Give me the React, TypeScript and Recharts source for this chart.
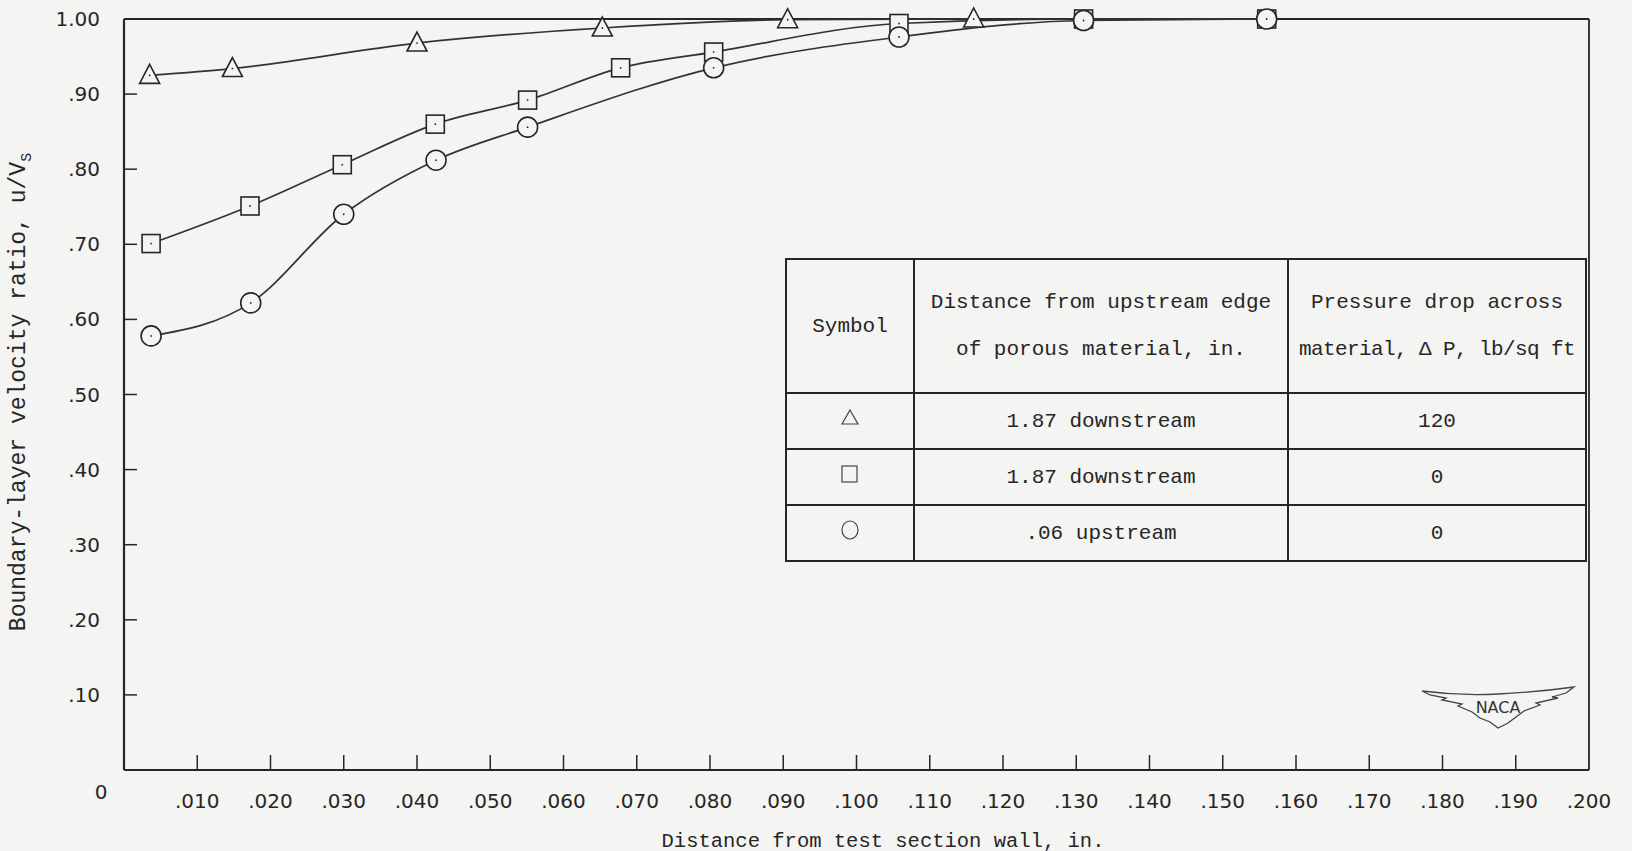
import { LineChart, Line, XAxis, YAxis, ReferenceLine } from "recharts"

// values
const xTicks = [0, 0.01, 0.02, 0.03, 0.04, 0.05, 0.06, 0.07, 0.08, 0.09, 0.1, 0.11, 0.12, 0.13, 0.14, 0.15, 0.16, 0.17, 0.18, 0.19, 0.2]
const yTicks = [0, 0.1, 0.2, 0.3, 0.4, 0.5, 0.6, 0.7, 0.8, 0.9, 1.0]

const triangleX = [0.0035, 0.0148, 0.04, 0.0653, 0.0906, 0.116]
const triangleY = [0.925, 0.934, 0.968, 0.988, 0.999, 1.0]

const squareX = [0.0037, 0.0172, 0.0298, 0.0425, 0.0551, 0.0678, 0.0805, 0.1058, 0.131, 0.156]
const squareY = [0.701, 0.751, 0.806, 0.86, 0.892, 0.935, 0.956, 0.994, 1.0, 1.0]

const circleX = [0.0037, 0.0173, 0.03, 0.0426, 0.0551, 0.0805, 0.1058, 0.131, 0.156]
const circleY = [0.578, 0.622, 0.74, 0.812, 0.856, 0.935, 0.976, 0.998, 1.0]

const legendRows = [
  { symbol: "triangle", distance: "1.87 downstream", pressure: "120" },
  { symbol: "square", distance: "1.87 downstream", pressure: "0" },
  { symbol: "circle", distance: ".06 upstream", pressure: "0" },
]

const toPts = (xs: number[], ys: number[]) => xs.map((x, i) => ({ x, y: ys[i] }))

const BG = "#f4f4f2"
const INK = "#262626"
const MONO = "'Liberation Mono', 'DejaVu Sans Mono', monospace"
const TICKFONT = "'DejaVu Sans', sans-serif"

const fmtX = (v: number) => v.toFixed(3).replace(/^0/, "")
const fmtY = (v: number) => (v === 1 ? "1.00" : v.toFixed(2).replace(/^0/, ""))

const XTick = (props: any) => {
  const { x, y, payload } = props
  const v = payload.value
  return (
    <g>
      {v > 0 && v < 0.2 && <line x1={x} y1={y} x2={x} y2={y - 15} stroke={INK} strokeWidth={1.5} />}
      {v > 0 && (
        <text x={x} y={y + 38} textAnchor="middle" fontFamily={TICKFONT} fontSize={20} fill={INK}>
          {fmtX(v)}
        </text>
      )}
    </g>
  )
}

const YTick = (props: any) => {
  const { x, y, payload } = props
  const v = payload.value
  if (v === 0) {
    return (
      <text x={x - 23} y={y + 29} textAnchor="middle" fontFamily={TICKFONT} fontSize={20} fill={INK}>
        0
      </text>
    )
  }
  return (
    <g>
      {v < 1 && <line x1={x} y1={y} x2={x + 13} y2={y} stroke={INK} strokeWidth={1.5} />}
      <text x={x - 24} y={y + 7} textAnchor="end" fontFamily={TICKFONT} fontSize={20} fill={INK}>
        {fmtY(v)}
      </text>
    </g>
  )
}

const Marker = ({ kind, cx, cy }: { kind: string; cx: number; cy: number }) => {
  const common = { fill: BG, stroke: INK, strokeWidth: 1.6 }
  let shape
  if (kind === "triangle") {
    shape = <path d={`M${cx},${cy - 11} L${cx + 10},${cy + 8} L${cx - 10},${cy + 8} Z`} {...common} />
  } else if (kind === "square") {
    shape = <rect x={cx - 9} y={cy - 9} width={18} height={18} {...common} />
  } else {
    shape = <circle cx={cx} cy={cy} r={10} {...common} />
  }
  return (
    <g>
      {shape}
      <circle cx={cx} cy={cy} r={0.9} fill={INK} />
    </g>
  )
}

const dotFor = (kind: string) => (p: any) => <Marker key={`${kind}-${p.index}`} kind={kind} cx={p.cx} cy={p.cy} />

const LegendIcon = ({ kind }: { kind: string }) => (
  <svg width={22} height={22} viewBox="0 0 22 22">
    {kind === "triangle" && <path d="M11,3 L19,17 L3,17 Z" fill="none" stroke="#444" strokeWidth={1.2} />}
    {kind === "square" && <rect x={3} y={3} width={15} height={16} fill="none" stroke="#444" strokeWidth={1.2} />}
    {kind === "circle" && <ellipse cx={11} cy={11} rx={8} ry={9} fill="none" stroke="#444" strokeWidth={1.2} />}
  </svg>
)

const cell: React.CSSProperties = {
  border: `2px solid ${INK}`,
  textAlign: "center",
  padding: 0,
}

export default function App() {
  return (
    <div
      style={{
        position: "absolute",
        left: 0,
        top: 0,
        width: 1632,
        height: 851,
        background: BG,
        overflow: "hidden",
      }}
    >
      <LineChart width={1632} height={851} margin={{ top: 19, right: 43, left: 24, bottom: 0 }}>
        <XAxis
          type="number"
          dataKey="x"
          domain={[0, 0.2]}
          ticks={xTicks}
          interval={0}
          height={81}
          tickSize={0}
          tickMargin={0}
          tickLine={false}
          axisLine={{ stroke: INK, strokeWidth: 2.2 }}
          tick={<XTick />}
          allowDuplicatedCategory={false}
        />
        <YAxis
          type="number"
          dataKey="y"
          domain={[0, 1]}
          ticks={yTicks}
          interval={0}
          width={100}
          tickSize={0}
          tickMargin={0}
          tickLine={false}
          axisLine={{ stroke: INK, strokeWidth: 2.2 }}
          tick={<YTick />}
        />
        <ReferenceLine y={1} stroke={INK} strokeWidth={2.2} />
        <ReferenceLine x={0.2} stroke={INK} strokeWidth={1.8} />
        <Line
          data={toPts(triangleX, triangleY)}
          dataKey="y"
          type="monotone"
          stroke="#333"
          strokeWidth={1.7}
          dot={dotFor("triangle")}
          isAnimationActive={false}
        />
        <Line
          data={toPts(squareX, squareY)}
          dataKey="y"
          type="monotone"
          stroke="#333"
          strokeWidth={1.7}
          dot={dotFor("square")}
          isAnimationActive={false}
        />
        <Line
          data={toPts(circleX, circleY)}
          dataKey="y"
          type="monotone"
          stroke="#333"
          strokeWidth={1.7}
          dot={dotFor("circle")}
          isAnimationActive={false}
        />
      </LineChart>

      {/* axis titles */}
      <div
        style={{
          position: "absolute",
          left: 21,
          top: 392,
          transform: "translate(-50%, -50%) rotate(-90deg)",
          whiteSpace: "nowrap",
          fontFamily: MONO,
          fontSize: 23,
          color: INK,
        }}
      >
        Boundary-layer velocity ratio, u/V<sub style={{ fontSize: 15 }}>S</sub>
      </div>
      <div
        style={{
          position: "absolute",
          left: 883,
          top: 841,
          transform: "translate(-50%, -50%)",
          whiteSpace: "nowrap",
          fontFamily: MONO,
          fontSize: 20.5,
          color: INK,
        }}
      >
        Distance from test section wall, in.
      </div>

      {/* symbol table */}
      <table
        style={{
          position: "absolute",
          left: 785,
          top: 258,
          width: 802,
          height: 304,
          borderCollapse: "collapse",
          background: BG,
          fontFamily: MONO,
          fontSize: 21,
          color: INK,
        }}
      >
        <tbody>
          <tr style={{ height: 134 }}>
            <td style={{ ...cell, width: 126 }}>Symbol</td>
            <td style={{ ...cell, width: 372 }}>
              <div style={{ marginBottom: 24 }}>Distance from upstream edge</div>
              <div>of porous material, in.</div>
            </td>
            <td style={cell}>
              <div style={{ marginBottom: 24 }}>Pressure drop across</div>
              <div style={{ whiteSpace: "nowrap", letterSpacing: -0.6 }}>material, &Delta; P, lb/sq ft</div>
            </td>
          </tr>
          {legendRows.map((r) => (
            <tr key={r.symbol} style={{ height: 56 }}>
              <td style={cell}>
                <LegendIcon kind={r.symbol} />
              </td>
              <td style={cell}>{r.distance}</td>
              <td style={cell}>{r.pressure}</td>
            </tr>
          ))}
        </tbody>
      </table>

      {/* NACA wings */}
      <svg style={{ position: "absolute", left: 1420, top: 685 }} width={156} height={44}>
        <path
          d="M2,6 Q40,11 78,9 Q118,7 154,2 L146,8 L132,12 L138,13 L116,18 L120,20 L104,26 L96,32 L88,38 L78,43 L70,37 L60,33 L52,27 L38,21 L42,19 L22,15 L26,13 L10,10 Z"
          fill="none"
          stroke="#444"
          strokeWidth={1.3}
        />
        <text x={78} y={28} textAnchor="middle" fontFamily="'DejaVu Sans', sans-serif" fontSize={16} fill="#333">
          NACA
        </text>
      </svg>
    </div>
  )
}
